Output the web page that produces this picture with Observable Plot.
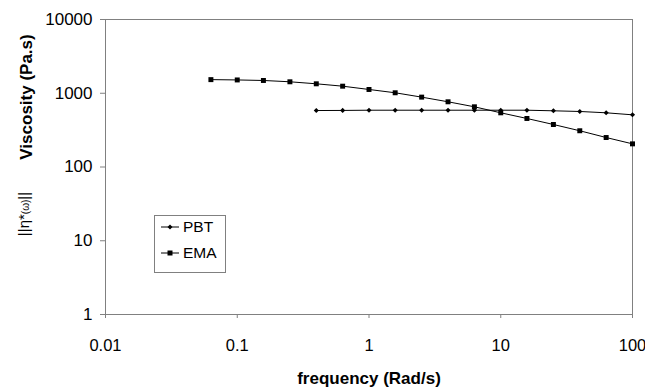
<!DOCTYPE html>
<html>
<head>
<meta charset="utf-8">
<script src="https://cdn.jsdelivr.net/npm/d3@7"></script>
<script src="https://cdn.jsdelivr.net/npm/@observablehq/plot@0.6"></script>
<style>
  html, body { margin: 0; padding: 0; background: #fff; }
  #wrap { position: relative; width: 645px; height: 387px; font-family: "Liberation Sans", Arial, sans-serif; }
  #wrap svg { overflow: visible; }
  #legend { position: absolute; left: 154px; top: 215px; width: 70px; height: 56px; border: 1px solid #808080; background: #fff; font-size: 15.5px; }
  .row { position: absolute; left: 5px; height: 16px; display: flex; align-items: center; }
  .row span { margin-left: 3px; }
</style>
</head>
<body>
<div id="wrap"></div>
<script>
const pbtFreq = [0.398, 0.631, 1, 1.58, 2.51, 3.98, 6.31, 10, 15.8, 25.1, 39.8, 63.1, 100];
const pbtVisc = [583, 585, 589, 589, 589, 589, 589, 589, 589, 578, 566, 543, 510];

const emaFreq = [0.0631, 0.1, 0.158, 0.251, 0.398, 0.631, 1, 1.58, 2.51, 3.98, 6.31, 10, 15.8, 25.1, 39.8, 63.1, 100];
const emaVisc = [1530, 1515, 1490, 1430, 1343, 1247, 1125, 1015, 886, 766, 655, 543, 455, 377, 310, 251, 206];

const xTicks = [0.01, 0.1, 1, 10, 100];
const xTickLabels = ["0.01", "0.1", "1", "10", "100"];
const yTicks = [1, 10, 100, 1000, 10000];
const yTickLabels = ["1", "10", "100", "1000", "10000"];

const seriesNames = ["PBT", "EMA"];

const pbt = pbtFreq.map((f, i) => ({f, v: pbtVisc[i]}));
const ema = emaFreq.map((f, i) => ({f, v: emaVisc[i]}));

const chart = Plot.plot({
  width: 645,
  height: 387,
  marginLeft: 105,
  marginRight: 13,
  marginTop: 19,
  marginBottom: 73,
  style: {fontFamily: "'Liberation Sans', Arial, sans-serif", background: "#fff", color: "#000", overflow: "visible"},
  x: {type: "log", domain: [0.01, 100]},
  y: {type: "log", domain: [1, 10000]},
  marks: [
    Plot.frame({stroke: "#808080"}),
    Plot.axisY({ticks: yTicks, tickFormat: d => yTickLabels[yTicks.indexOf(d)], tickSize: 5, tickPadding: 8, fontSize: 17, label: null, stroke: "#808080"}),
    Plot.axisX({ticks: xTicks, tickFormat: d => xTickLabels[xTicks.indexOf(d)], tickSize: 4, tickPadding: 21, fontSize: 16.5, label: null, stroke: "#808080"}),
    Plot.line(ema, {x: "f", y: "v", stroke: "#000", strokeWidth: 1}),
    Plot.line(pbt, {x: "f", y: "v", stroke: "#000", strokeWidth: 1}),
    Plot.dot(ema, {x: "f", y: "v", symbol: "square", r: 2.8, fill: "#000", stroke: "none"}),
    Plot.dot(pbt, {x: "f", y: "v", symbol: "diamond2", r: 2.3, fill: "#000", stroke: "none"}),
    Plot.text(["frequency (Rad/s)"], {frameAnchor: "bottom", dy: 64, fontSize: 17, fontWeight: "bold", lineAnchor: "middle"})
  ]
});

document.getElementById("wrap").appendChild(chart);

// rotated y labels
const svg = d3.select(chart);
svg.append("text")
  .attr("transform", "translate(32,97) rotate(-90)")
  .attr("text-anchor", "middle")
  .attr("font-size", 17)
  .attr("font-weight", "bold")
  .attr("fill", "#000")
  .text("Viscosity (Pa.s)");

const t2 = svg.append("text")
  .attr("transform", "translate(29,214) rotate(-90)")
  .attr("text-anchor", "middle")
  .attr("font-size", 15)
  .attr("fill", "#000");
t2.append("tspan").text("||η*");
t2.append("tspan").attr("font-size", 10).text("(ω)");
t2.append("tspan").text("||");

// legend
const legend = document.createElement("div");
legend.id = "legend";
const syms = [
  '<svg width="20" height="10"><line x1="1" y1="5" x2="19" y2="5" stroke="#000"/><path d="M10,2.5L12.5,5L10,7.5L7.5,5Z" fill="#000"/></svg>',
  '<svg width="20" height="10"><line x1="1" y1="5" x2="19" y2="5" stroke="#000"/><rect x="7.5" y="2.5" width="5" height="5" fill="#000"/></svg>'
];
seriesNames.forEach((name, i) => {
  const row = document.createElement("div");
  row.className = "row";
  row.style.top = (3 + i * 26) + "px";
  row.innerHTML = syms[i] + "<span>" + name + "</span>";
  legend.appendChild(row);
});
document.getElementById("wrap").appendChild(legend);
</script>
</body>
</html>
